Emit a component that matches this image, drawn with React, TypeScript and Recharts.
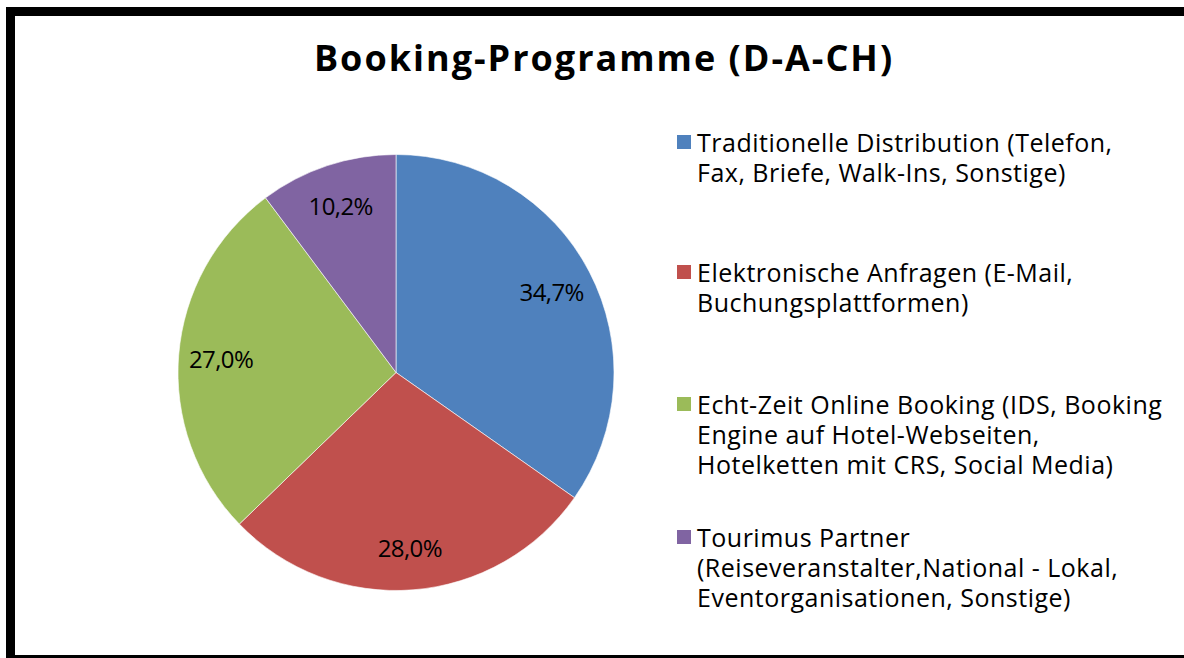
import React from 'react';
import { PieChart, Pie, Cell, Legend } from 'recharts';

const categories = [
  'Traditionelle Distribution (Telefon,\nFax, Briefe, Walk-Ins, Sonstige)',
  'Elektronische Anfragen (E-Mail,\nBuchungsplattformen)',
  'Echt-Zeit Online Booking (IDS, Booking\nEngine auf Hotel-Webseiten,\nHotelketten mit CRS, Social Media)',
  'Tourimus Partner\n(Reiseveranstalter,National - Lokal,\nEventorganisationen, Sonstige)',
];
const values = [34.7, 28.0, 27.0, 10.2];
const colors = ['#4F81BD', '#C0504D', '#9BBB59', '#8064A2'];
const title = 'Booking-Programme (D-A-CH)';

const data = categories.map((name, i) => ({ name, value: values[i], color: colors[i] }));

const FONT = "'Open Sans', sans-serif";
const RAD = Math.PI / 180;
const legendTops = [0, 130, 262, 395];

const renderLabel = (props: any) => {
  const { cx, cy, midAngle, outerRadius, value } = props;
  const r = outerRadius * 0.805;
  const x = cx + r * Math.cos(-midAngle * RAD);
  const y = cy + r * Math.sin(-midAngle * RAD);
  return (
    <text x={x} y={y} textAnchor="middle" dominantBaseline="central" fill="#000" fontFamily={FONT} fontSize={24} letterSpacing={-0.6}>
      {value.toFixed(1).replace('.', ',') + '%'}
    </text>
  );
};

const renderLegend = () => {
  return (
    <div style={{ position: 'relative', width: 500, height: 520 }}>
      {data.map((entry, i) => (
        <div key={i} style={{ position: 'absolute', left: 0, top: legendTops[i], display: 'flex', alignItems: 'flex-start' }}>
          <div style={{ width: 14, height: 14, background: entry.color, marginTop: 8, marginRight: 6, flexShrink: 0 }} />
          <div style={{ fontFamily: FONT, fontSize: 25, letterSpacing: 0.5, lineHeight: '30px', color: '#000', whiteSpace: 'pre-line' }}>
            {entry.name}
          </div>
        </div>
      ))}
    </div>
  );
};

export default function App() {
  return (
    <div style={{ position: 'fixed', left: 0, top: 0, width: 1184, height: 658, overflow: 'hidden', background: '#fff' }}>
      <div style={{ position: 'absolute', left: 6, top: 7, width: 1200, height: 657, border: '9px solid #000', boxSizing: 'border-box' }} />
      <div style={{ position: 'absolute', left: 204, top: 30, width: 800, textAlign: 'center', fontFamily: FONT, fontWeight: 700, fontSize: 36, letterSpacing: 2, lineHeight: '56px', color: '#000' }}>
        {title}
      </div>
      <div style={{ position: 'absolute', left: 0, top: 0 }}>
        <PieChart width={1184} height={658} margin={{ top: 0, right: 0, bottom: 0, left: 0 }}>
          <Pie
            data={data}
            dataKey="value"
            nameKey="name"
            cx={396}
            cy={372.5}
            outerRadius={218}
            startAngle={90}
            endAngle={-270}
            stroke="#ffffff"
            strokeWidth={0.6}
            label={renderLabel}
            labelLine={false}
            isAnimationActive={false}
          >
            {data.map((d, i) => (
              <Cell key={i} fill={colors[i]} />
            ))}
          </Pie>
          <Legend
            content={renderLegend}
            layout="vertical"
            align="right"
            verticalAlign="top"
            wrapperStyle={{ position: 'absolute', left: 677, top: 127, width: 500 }}
          />
        </PieChart>
      </div>
    </div>
  );
}
